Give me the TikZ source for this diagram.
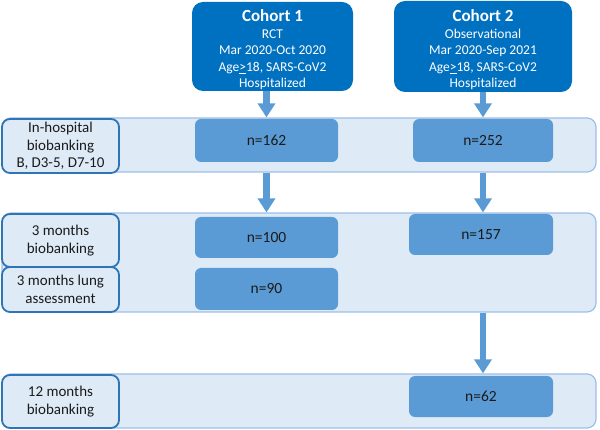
\documentclass[tikz,border=0pt]{standalone}
\usepackage{fontspec}
\setmainfont{Carlito}
\usetikzlibrary{arrows.meta}
\definecolor{dkblue}{HTML}{0070C0}
\definecolor{midblue}{HTML}{5B9BD5}
\definecolor{bandfill}{HTML}{DEEBF7}
\definecolor{bandline}{HTML}{9DBFE8}
\definecolor{lblline}{HTML}{2E75B6}
\definecolor{txt}{HTML}{1A1A1A}
\tikzset{
  band/.style={draw=bandline, fill=bandfill, line width=1.2pt, rounded corners=9pt, inner sep=0pt},
  lbl/.style={draw=lblline, fill=bandfill, line width=1.8pt, rounded corners=8pt, inner sep=0pt,
    align=center, text=txt, font=\fontsize{15}{17.5}\selectfont},
  nbox/.style={fill=midblue, rounded corners=6pt, inner sep=0pt, text=txt,
    minimum width=143pt, font=\fontsize{15.5}{17}\selectfont},
  cohort/.style={fill=dkblue, rounded corners=11pt, inner sep=0pt, text=white, align=center,
    font=\fontsize{13.5}{16.4}\selectfont},
  flow/.style={draw=midblue, line width=6.5pt, -{Triangle[width=17pt,length=14pt]}}
}
\begin{document}
\begin{tikzpicture}[x=1pt,y=-1pt]
\useasboundingbox (0,0) rectangle (600,430);
% bands
\node[band, minimum width=594pt, minimum height=54pt] (band1) at (299,145) {};
\node[band, minimum width=594pt, minimum height=99pt] (band2) at (299,262.5) {};
\node[band, minimum width=594pt, minimum height=54pt] (band3) at (299,401) {};
% labels
\node[lbl, minimum width=117pt, minimum height=54pt] (l1) at (60.5,146) {In-hospital\\biobanking\\B, D3-5, D7-10};
\node[lbl, minimum width=117pt, minimum height=53pt] (l2) at (60.5,240.5) {3 months\\biobanking};
\node[lbl, minimum width=117pt, minimum height=45pt] (l3) at (60.5,289.5) {3 months lung\\assessment};
\node[lbl, minimum width=117pt, minimum height=53pt] (l4) at (60.5,401.5) {12 months\\biobanking};
% cohorts
\node[cohort, minimum width=161pt, minimum height=89pt] (c1) at (272.5,46.5)
  {\rule{0pt}{18pt}{\fontsize{17}{18}\selectfont\bfseries Cohort 1}\\[1pt]RCT\\Mar 2020-Oct 2020\\Age\underline{>}18, SARS-CoV2\\Hospitalized};
\node[cohort, minimum width=178pt, minimum height=91pt] (c2) at (483,46.5)
  {\rule{0pt}{18pt}{\fontsize{17}{18}\selectfont\bfseries Cohort 2}\\[1pt]Observational\\Mar 2020-Sep 2021\\Age\underline{>}18, SARS-CoV2\\Hospitalized};
% n boxes
\node[nbox, minimum height=43pt] (n162) at (266.5,140.5) {n=162};
\node[nbox, minimum width=140pt, minimum height=43pt] (n252) at (483,140.5) {n=252};
\node[nbox, minimum height=41pt] (n100) at (266.5,237.5) {n=100};
\node[nbox, minimum height=42pt] (n90) at (266.5,289) {n=90};
\node[nbox, minimum width=144pt, minimum height=41pt] (n157) at (481,234.5) {n=157};
\node[nbox, minimum width=144pt, minimum height=41pt] (n62) at (481,396.5) {n=62};
% arrows
\draw[flow] (n162 |- c1.south) -- (n162 |- band1.north);
\draw[flow] (c2.south) -- (c2.south |- band1.north);
\draw[flow] (n162 |- band1.south) -- (n162 |- band2.north);
\draw[flow] (c2.south |- band1.south) -- (c2.south |- band2.north);
\draw[flow] (c2.south |- band2.south) -- (c2.south |- band3.north);
\end{tikzpicture}
\end{document}
